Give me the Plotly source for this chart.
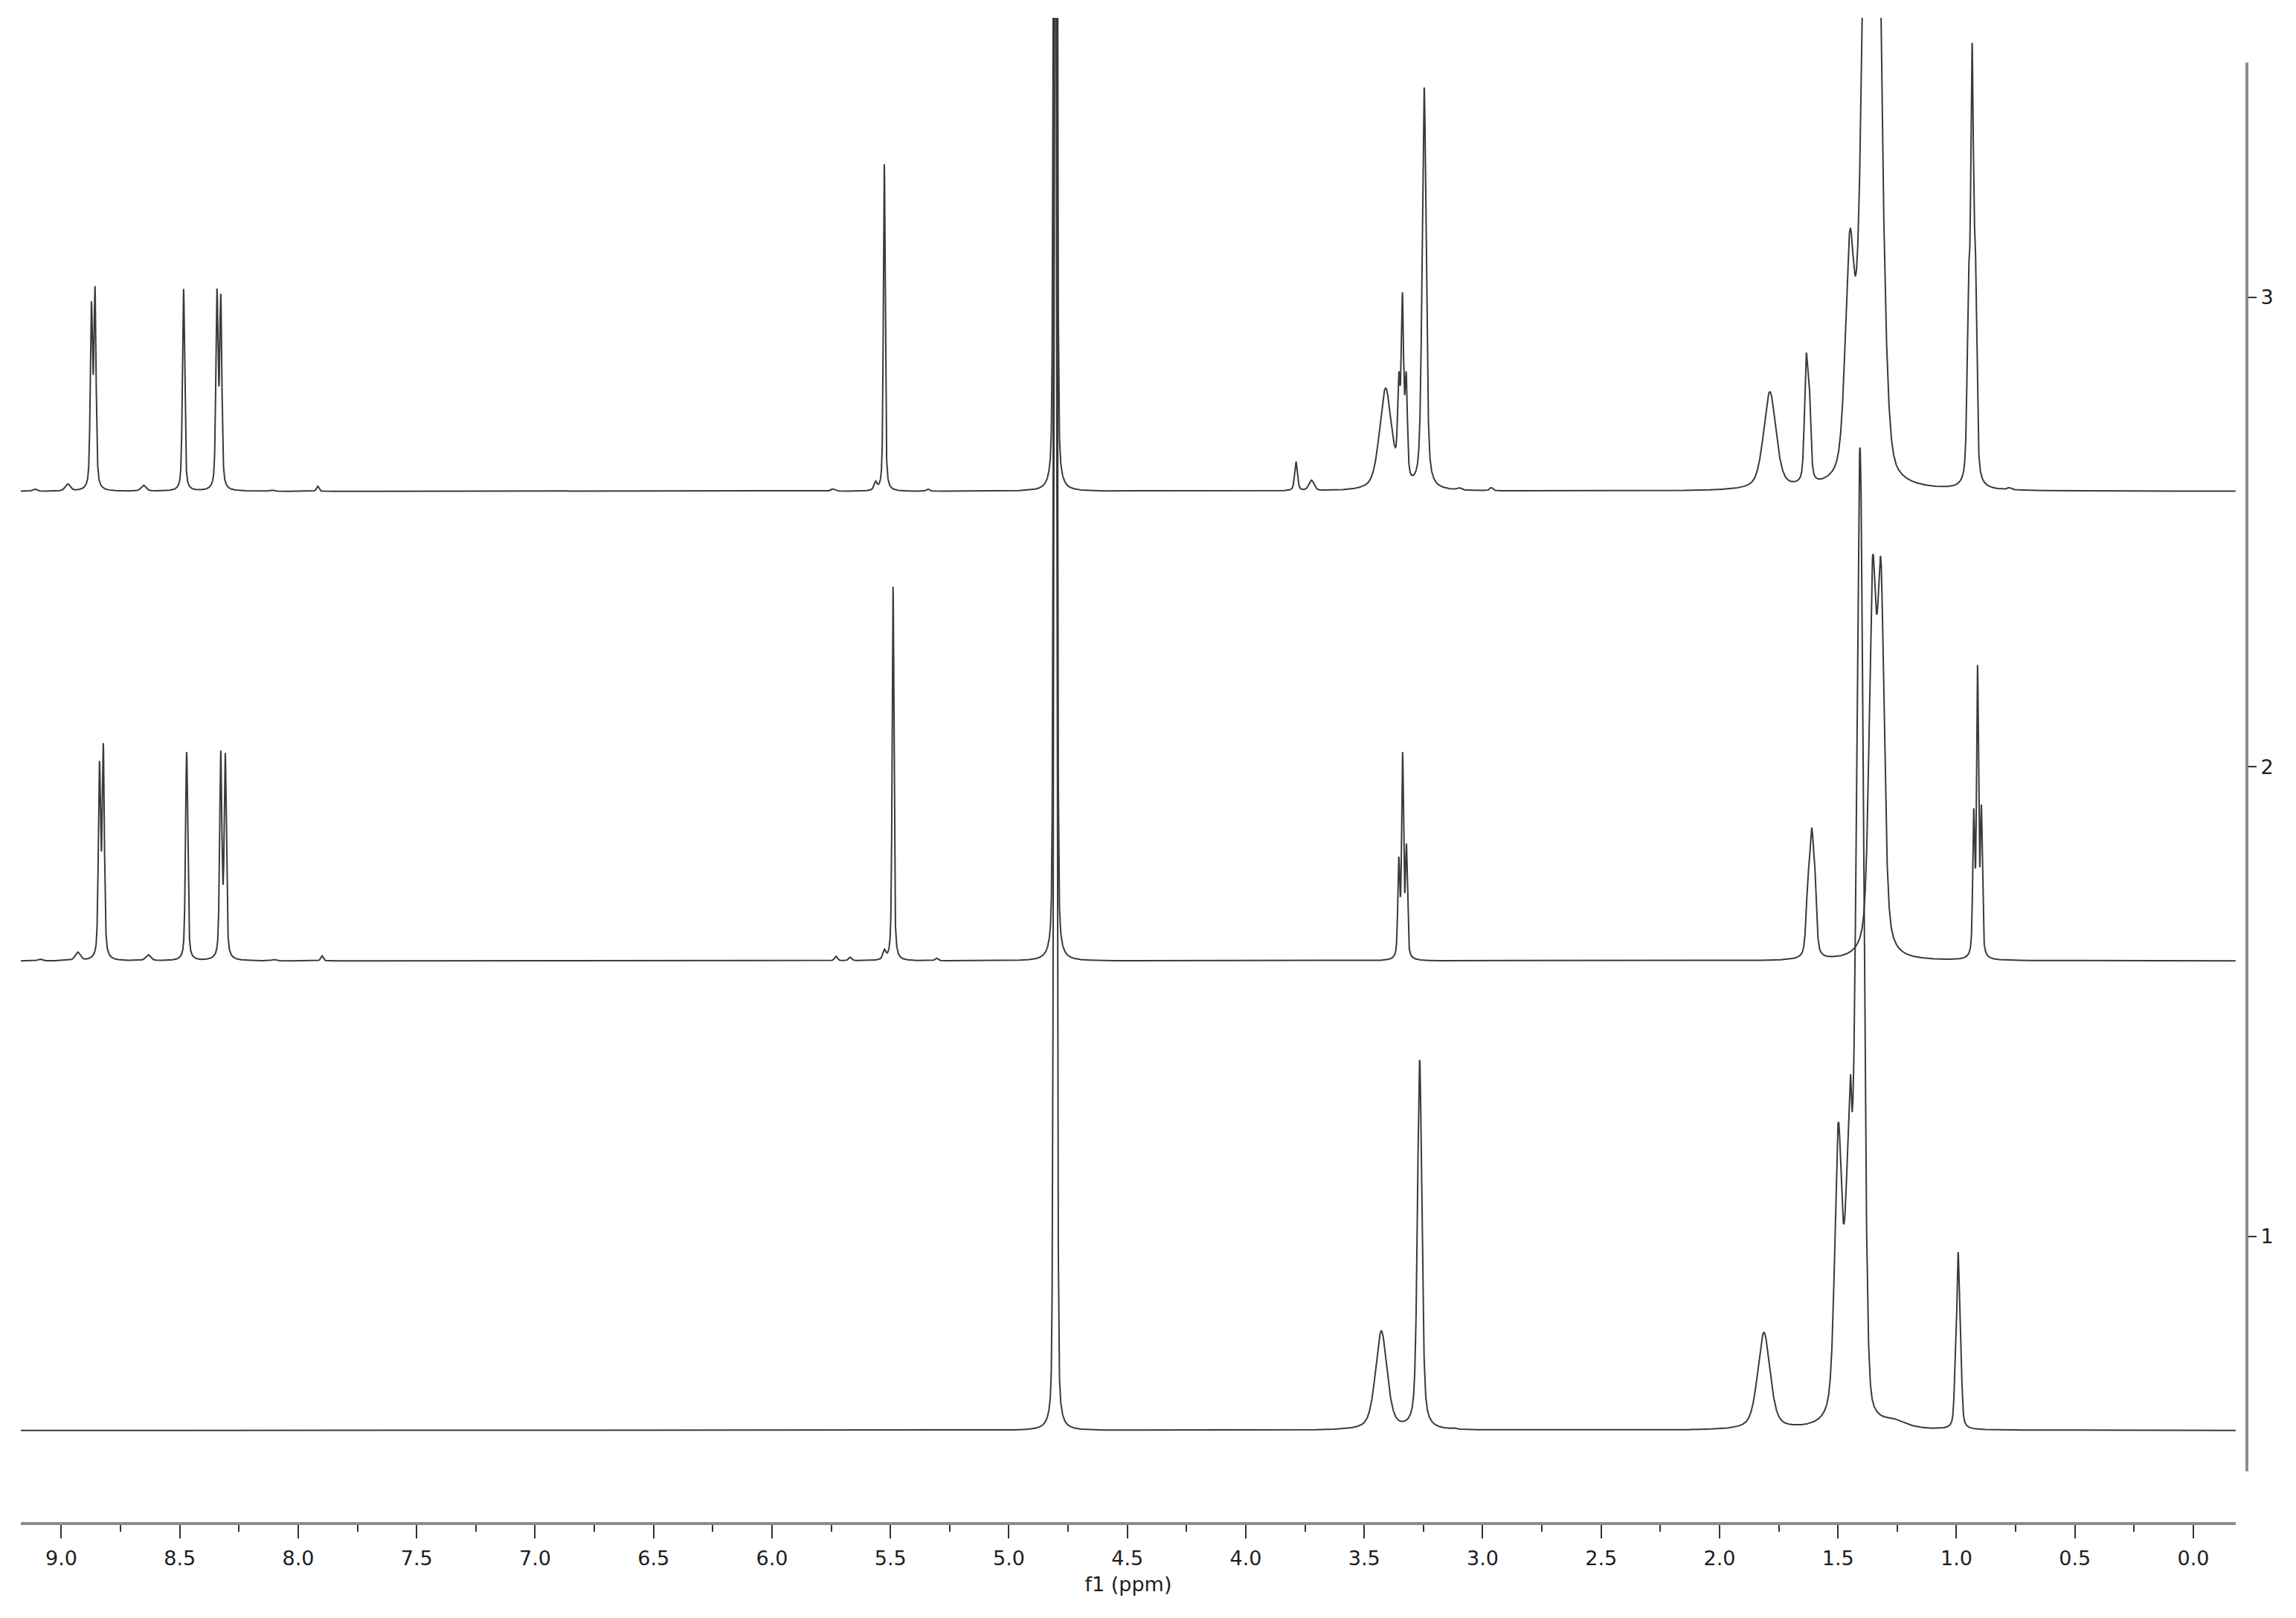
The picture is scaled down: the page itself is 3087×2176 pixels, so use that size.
import numpy as np
import plotly.graph_objects as go

# stacked 1H NMR spectra, 1 = bottom ... 3 = top
spectrum_labels = [1, 2, 3]
baselines = [0.587, 1.587, 2.587]

# residual HDO line, present in every spectrum (clipped at the top)
hdo_ppm = 4.804
hdo_height = 3.96
hdo_width = 0.013
hdo_shape = 0.2

# spectrum 1 (bottom): ppm, apex height above its baseline, FWHM (ppm), lorentzian fraction
s1_ppm = [3.428, 3.266, 3.123, 1.813, 1.623, 1.499, 1.452, 1.447, 1.407, 1.263, 1.004, 0.993, 0.982]
s1_height = [0.212, 0.789, 0.006, 0.209, 0.013, 0.656, 0.681, 0.759, 2.093, 0.025, 0.174, 0.380, 0.190]
s1_width = [0.058, 0.022, 0.02, 0.062, 0.05, 0.035, 0.04, 0.006, 0.035, 0.12, 0.012, 0.012, 0.012]
s1_shape = [0.5, 0.5, 0.5, 0.5, 0.5, 0.5, 0.5, 0.5, 0.2, 0.5, 0.5, 0.5, 0.5]

# spectrum 2 (middle)
s2_ppm = [9.091, 8.931, 8.839, 8.823, 8.633, 8.471, 8.327, 8.308, 8.103, 7.900,
          5.730, 5.670, 5.526, 5.489, 5.306,
          3.354, 3.338, 3.322, 1.627, 1.612, 1.599, 1.354, 1.319, 1.233,
          0.927, 0.911, 0.895]
s2_height = [0.004, 0.019, 0.426, 0.464, 0.013, 0.445, 0.448, 0.443, 0.003, 0.011,
             0.010, 0.008, 0.025, 0.797, 0.006,
             0.222, 0.445, 0.250, 0.182, 0.283, 0.215, 0.860, 0.854, 0.016,
             0.325, 0.630, 0.333]
s2_width = [0.02, 0.025, 0.011, 0.011, 0.025, 0.011, 0.011, 0.011, 0.02, 0.012,
            0.015, 0.015, 0.015, 0.009, 0.015,
            0.010, 0.010, 0.010, 0.018, 0.018, 0.018, 0.034, 0.034, 0.12,
            0.010, 0.010, 0.010]
s2_shape = [0.5] * len(s2_ppm)

# spectrum 3 (top)
s3_ppm = [9.113, 8.973, 8.873, 8.858, 8.653, 8.484, 8.343, 8.327, 8.113, 7.918,
          5.743, 5.563, 5.526, 5.343,
          3.788, 3.723, 3.410, 3.354, 3.339, 3.323, 3.247, 3.100, 2.964,
          1.788, 1.635, 1.622, 1.450, 1.358, 1.253, 1.091,
          0.949, 0.934, 0.920, 0.777]
s3_height = [0.005, 0.016, 0.405, 0.437, 0.013, 0.431, 0.432, 0.421, 0.003, 0.011,
             0.005, 0.022, 0.697, 0.005,
             0.063, 0.024, 0.220, 0.255, 0.424, 0.255, 0.860, 0.008, 0.008,
             0.212, 0.291, 0.238, 0.557, 2.375, 0.055, 0.008,
             0.475, 0.955, 0.518, 0.008]
s3_width = [0.02, 0.025, 0.011, 0.011, 0.025, 0.011, 0.011, 0.011, 0.02, 0.012,
            0.02, 0.015, 0.009, 0.015,
            0.014, 0.025, 0.06, 0.012, 0.012, 0.012, 0.02, 0.02, 0.015,
            0.062, 0.016, 0.016, 0.045, 0.07, 0.12, 0.02,
            0.014, 0.014, 0.014, 0.02]
s3_shape = [0.5] * len(s3_ppm)
s3_shape[27] = 0.2

ppm_left, ppm_right = 9.171, -0.179
ppm = np.arange(ppm_left, ppm_right, -0.0005)


def line_shape(x, center, fwhm, eta):
    d = (x - center) / (fwhm / 2.0)
    return eta / (1.0 + d ** 2) + (1.0 - eta) * np.exp(-np.log(2.0) * d ** 2)


def build_spectrum(pk_ppm, pk_h, pk_w, pk_eta):
    pos = np.array(pk_ppm + [hdo_ppm])
    h = np.array(pk_h + [hdo_height])
    w = np.array(pk_w + [hdo_width])
    eta = np.array(pk_eta + [hdo_shape])
    # amplitudes so that the summed curve hits the read apex heights
    A = line_shape(pos[:, None], pos[None, :], w[None, :], eta[None, :])
    amp = np.clip(np.linalg.solve(A, h), 0, None)
    y = np.zeros_like(ppm)
    for a, c, fw, e in zip(amp, pos, w, eta):
        y += a * line_shape(ppm, c, fw, e)
    return y


spectra = [
    build_spectrum(s1_ppm, s1_height, s1_width, s1_shape),
    build_spectrum(s2_ppm, s2_height, s2_width, s2_shape),
    build_spectrum(s3_ppm, s3_height, s3_width, s3_shape),
]

fig = go.Figure()
for base, spec in zip(baselines, spectra):
    fig.add_trace(go.Scatter(x=ppm, y=spec + base, mode='lines',
                             line=dict(color='#3a3a3a', width=2), hoverinfo='skip'))

font = dict(family='DejaVu Sans', size=27, color='#1e1e1e')
plot_w = 2978
paper_w = 2993

fig.update_layout(
    width=3087, height=2176,
    margin=dict(l=20, r=74, t=16, b=137),
    paper_bgcolor='white', plot_bgcolor='white',
    showlegend=False,
    xaxis=dict(
        domain=[0, plot_w / paper_w],
        range=[ppm_left, ppm_right],
        showline=True, linewidth=4, linecolor='#8c8c8c',
        showgrid=False, zeroline=False,
        ticks='outside', ticklen=18, tickwidth=2, tickcolor='#333333',
        tick0=0, dtick=0.5, tickformat='.1f',
        tickfont=font, ticklabelstandoff=4,
        minor=dict(ticks='outside', ticklen=9, tickwidth=2, tickcolor='#333333', dtick=0.25),
        title=dict(text='f1 (ppm)', font=font, standoff=12),
    ),
    yaxis=dict(
        range=[0.3919, 3.5954],
        side='right', anchor='free', position=1,
        showline=False, showgrid=False, zeroline=False,
        tickvals=spectrum_labels, ticktext=[str(v) for v in spectrum_labels],
        ticks='outside', ticklen=12, tickwidth=2, tickcolor='#333333',
        tickfont=font,
    ),
    shapes=[dict(type='line', xref='paper', yref='y', x0=1, x1=1, y0=0.5, y1=3.5,
                 line=dict(color='#8c8c8c', width=4))],
)

fig.write_html("out.html")
